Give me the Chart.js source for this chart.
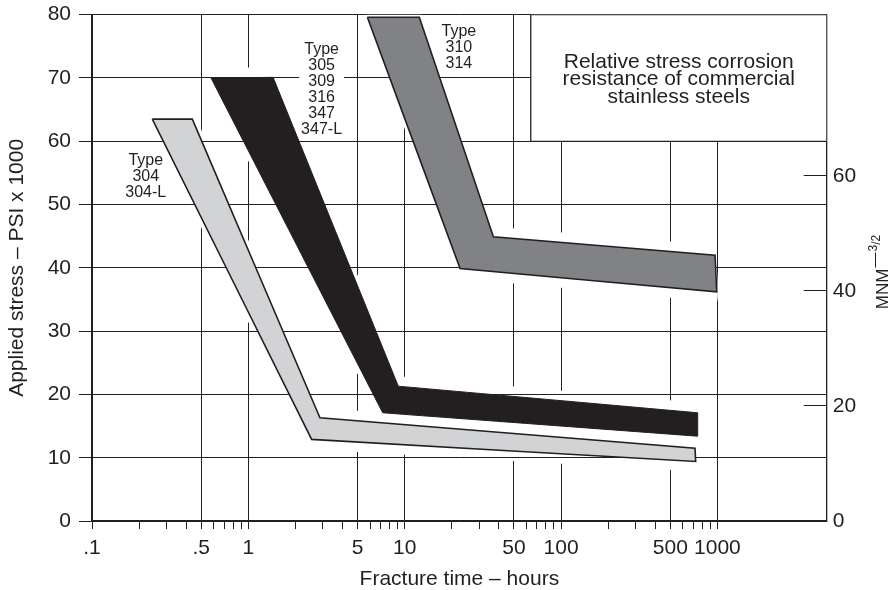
<!DOCTYPE html>
<html>
<head>
<meta charset="utf-8">
<script src="https://cdn.jsdelivr.net/npm/chart.js@4.4.1/dist/chart.umd.min.js"></script>
<style>
  html, body { margin: 0; padding: 0; background: #fff; }
</style>
</head>
<body>
<canvas id="myChart" width="891" height="590"></canvas>
<script>
// band outlines (x = hours, y = ksi), walked round clockwise
const band304X = [0.243, 0.438, 2.87, 719, 726, 2.54, 0.243];
const band304Y = [63.5, 63.5, 16.3, 11.5, 9.4, 12.9, 63.5];
const band305X = [0.577, 1.44, 9.1, 748, 748, 7.23, 0.577];
const band305Y = [70, 70.1, 21.3, 17.1, 13.4, 17.1, 70];
const band310X = [5.77, 12.4, 36.9, 966, 990, 22.6, 5.77];
const band310Y = [79.6, 79.6, 44.9, 42.0, 36.2, 39.9, 79.6];

// caption box corner values
const boxX = [64, 64, 5000, 5000, 64];
const boxY = [60, 80, 80, 60, 60];

const majorTicks = [0.1, 0.5, 1, 5, 10, 50, 100, 500, 1000];
const majorLabels = ['.1', '.5', '1', '5', '10', '50', '100', '500', '1000'];
const minorTicks = [0.2, 0.3, 0.4, 0.6, 0.7, 0.8, 0.9, 2, 3, 4, 6, 7, 8, 9,
  20, 30, 40, 60, 70, 80, 90, 200, 300, 400, 600, 700, 800, 900];
const rightTicks = [0, 20, 40, 60];

const labels304 = ['Type', '304', '304-L'];
const labels305 = ['Type', '305', '309', '316', '347', '347-L'];
const labels310 = ['Type', '310', '314'];
const captionLines = ['Relative stress corrosion', 'resistance of commercial', 'stainless steels'];

const INK = '#231f20';
const FONT = '"Liberation Sans", Arial, Helvetica, sans-serif';

Chart.defaults.font.family = FONT;
Chart.defaults.color = INK;

function toPoints(xs, ys) {
    return xs.map((x, i) => ({ x: x, y: ys[i] }));
}

function tracePath(ctx, pts) {
    ctx.beginPath();
    pts.forEach((p, j) => j ? ctx.lineTo(p.x, p.y) : ctx.moveTo(p.x, p.y));
    ctx.closePath();
}

function textBlock(ctx, lines, cx, cy, size, lh, bg) {
    ctx.font = size + 'px ' + FONT;
    ctx.textAlign = 'center';
    ctx.textBaseline = 'middle';
    lines.forEach((t, i) => {
        const y = cy + i * lh;
        if (bg) {
            const w = ctx.measureText(t).width + 18;
            ctx.fillStyle = '#fff';
            ctx.fillRect(cx - w / 2, y - lh / 2, w, lh);
        } else {
            ctx.fillStyle = INK;
            ctx.fillText(t, cx, y);
        }
    });
}

const bandPlugin = {
    id: 'bands',
    beforeDatasetsDraw(chart) {
        const ctx = chart.ctx;
        const a = chart.chartArea;
        const xs = chart.scales.x, ys = chart.scales.y;
        ctx.save();
        ctx.beginPath();
        ctx.rect(a.left, a.top, a.right - a.left, a.bottom - a.top);
        ctx.clip();
        // white margin that breaks the vertical grid lines above and below each band
        chart.data.datasets.forEach((ds, i) => {
            if (!ds.halo) return;
            tracePath(ctx, chart.getDatasetMeta(i).data);
            ctx.fillStyle = '#fff';
            ctx.fill();
            ctx.save();
            ctx.scale(0.12, 1);
            ctx.lineWidth = ds.halo * 2;
            ctx.lineJoin = 'round';
            ctx.strokeStyle = '#fff';
            ctx.stroke();
            ctx.restore();
        });
        // horizontal grid lines stay whole
        ctx.strokeStyle = INK;
        ctx.lineWidth = 1;
        ys.ticks.forEach(t => {
            const y = Math.round(ys.getPixelForValue(t.value) - 0.5) + 0.5;
            ctx.beginPath();
            ctx.moveTo(a.left, y);
            ctx.lineTo(a.right, y);
            ctx.stroke();
        });
        ctx.restore();
        // white patches behind the type labels
        ctx.save();
        textBlock(ctx, labels304, xs.getPixelForValue(0.2206), ys.getPixelForValue(56.92), 16, 16, true);
        textBlock(ctx, labels305, xs.getPixelForValue(2.94), ys.getPixelForValue(74.53), 16, 16, true);
        textBlock(ctx, labels310, xs.getPixelForValue(22.2), ys.getPixelForValue(77.31), 16, 16, true);
        ctx.restore();
    },
    beforeDatasetDraw(chart, args) {
        const ds = chart.data.datasets[args.index];
        if (!ds.polyFill) return;
        const ctx = chart.ctx;
        ctx.save();
        tracePath(ctx, args.meta.data);
        ctx.fillStyle = ds.polyFill;
        ctx.fill();
        ctx.restore();
    },
    afterDatasetsDraw(chart) {
        const ctx = chart.ctx;
        const a = chart.chartArea;
        const xs = chart.scales.x, ys = chart.scales.y, y1 = chart.scales.y1;
        ctx.save();
        textBlock(ctx, labels304, xs.getPixelForValue(0.2206), ys.getPixelForValue(56.92), 16, 16, false);
        textBlock(ctx, labels305, xs.getPixelForValue(2.94), ys.getPixelForValue(74.53), 16, 16, false);
        textBlock(ctx, labels310, xs.getPixelForValue(22.2), ys.getPixelForValue(77.31), 16, 16, false);
        const boxMid = (xs.getPixelForValue(boxX[0]) + a.right) / 2;
        textBlock(ctx, captionLines, boxMid, ys.getPixelForValue(72.57), 21, 17.8, false);

        // inward ticks of the right-hand scale
        ctx.strokeStyle = INK;
        ctx.lineWidth = 1;
        rightTicks.forEach(v => {
            if (!v) return;
            const y = Math.round(y1.getPixelForValue(v) - 0.5) + 0.5;
            ctx.beginPath();
            ctx.moveTo(a.right - 23, y);
            ctx.lineTo(a.right, y);
            ctx.stroke();
        });
        ctx.restore();
    },
    afterDraw(chart) {
        // right axis title MNM^-3/2
        const ctx = chart.ctx;
        ctx.save();
        ctx.translate(888, 272);
        ctx.rotate(-Math.PI / 2);
        ctx.fillStyle = INK;
        ctx.textAlign = 'left';
        ctx.textBaseline = 'alphabetic';
        const parts = [
            { t: 'MNM', size: 17, dy: 0, gap: 1 },
            { t: '\u2014', size: 15, dy: -9, gap: 1 },
            { t: '3', size: 12, dy: -11, gap: 0 },
            { t: '/2', size: 12, dy: -8, gap: 0 }
        ];
        let total = 0;
        parts.forEach(p => {
            ctx.font = p.size + 'px ' + FONT;
            p.w = ctx.measureText(p.t).width;
            total += p.w + p.gap;
        });
        let x = -total / 2;
        parts.forEach(p => {
            ctx.font = p.size + 'px ' + FONT;
            ctx.fillText(p.t, x, p.dy);
            x += p.w + p.gap;
        });
        ctx.restore();
    }
};

function band(points, fillColor, lineColor, lineWidth) {
    return {
        data: points,
        showLine: true,
        fill: false,
        polyFill: fillColor,
        halo: 10,
        borderColor: lineColor,
        borderWidth: lineWidth,
        tension: 0.000001,
        pointRadius: 0,
        pointHoverRadius: 0,
        yAxisID: 'y'
    };
}

const data = {
    datasets: [
        {
            data: toPoints(boxX, boxY),
            showLine: true,
            fill: false,
            polyFill: '#ffffff',
            borderColor: INK,
            borderWidth: 1.3,
            tension: 0.000001,
            pointRadius: 0,
            pointHoverRadius: 0,
            yAxisID: 'y'
        },
        band(toPoints(band310X, band310Y), '#808285', INK, 1.6),
        band(toPoints(band305X, band305Y), INK, INK, 1),
        band(toPoints(band304X, band304Y), '#d1d3d4', INK, 1.6)
    ]
};

const config = {
    type: 'scatter',
    data: data,
    plugins: [bandPlugin],
    options: {
        responsive: false,
        animation: false,
        devicePixelRatio: 1,
        events: [],
        layout: { padding: { top: 14.7, left: 0, right: 0, bottom: 0 } },
        plugins: {
            legend: { display: false },
            tooltip: { enabled: false }
        },
        scales: {
            x: {
                type: 'logarithmic',
                position: 'bottom',
                min: 0.1,
                max: 5000,
                afterBuildTicks: (axis) => {
                    axis.ticks = majorTicks.concat(minorTicks).sort((a, b) => a - b).map(v => ({ value: v }));
                },
                afterFit: (axis) => { axis.height = 69; },
                ticks: {
                    autoSkip: false,
                    maxRotation: 0,
                    padding: 7,
                    font: { size: 21 },
                    color: INK,
                    callback: (value) => {
                        const k = majorTicks.indexOf(value);
                        return k >= 0 ? majorLabels[k] : '';
                    }
                },
                grid: {
                    color: (c) => (c.tick && majorTicks.indexOf(c.tick.value) >= 0) ? INK : 'rgba(0,0,0,0)',
                    tickColor: INK,
                    tickLength: 8,
                    lineWidth: 1
                },
                border: { display: true, color: INK, width: 1.3 },
                title: {
                    display: true,
                    text: 'Fracture time \u2013 hours',
                    font: { size: 21, lineHeight: 1 },
                    padding: { top: 0, bottom: 0 },
                    color: INK
                }
            },
            y: {
                type: 'linear',
                position: 'left',
                min: 0,
                max: 80,
                afterFit: (axis) => { axis.width = 92; },
                ticks: {
                    stepSize: 10,
                    padding: 8,
                    font: { size: 21, lineHeight: 0.5 },
                    color: INK
                },
                grid: {
                    color: INK,
                    tickColor: INK,
                    tickLength: 13,
                    lineWidth: 1
                },
                border: { display: true, color: INK, width: 1.3 },
                title: {
                    display: true,
                    text: 'Applied stress \u2013 PSI x 1000',
                    font: { size: 21, lineHeight: 1 },
                    padding: { top: 7, bottom: 0 },
                    color: INK
                }
            },
            y1: {
                type: 'linear',
                position: 'right',
                min: 0,
                max: 88,
                afterBuildTicks: (axis) => {
                    axis.ticks = rightTicks.map(v => ({ value: v }));
                },
                afterFit: (axis) => { axis.width = 64.3; },
                ticks: {
                    padding: 6,
                    font: { size: 21, lineHeight: 0.5 },
                    color: INK
                },
                grid: {
                    drawOnChartArea: false,
                    drawTicks: false
                },
                border: { display: true, color: INK, width: 1.3 }
            }
        }
    }
};

const myChart = new Chart(document.getElementById('myChart'), config);
</script>
</body>
</html>
